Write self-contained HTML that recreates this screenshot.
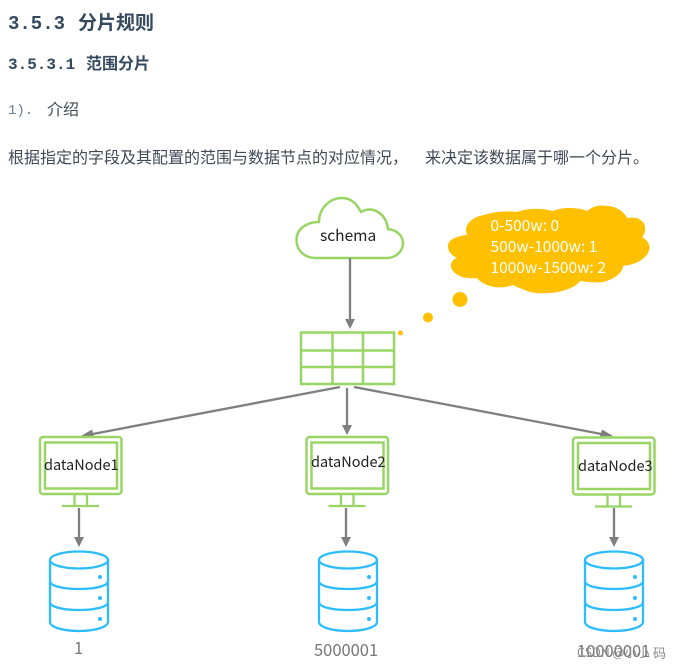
<!DOCTYPE html>
<html>
<head>
<meta charset="utf-8">
<style>
html,body{margin:0;padding:0;background:#fff;width:681px;height:669px;overflow:hidden}
svg{position:absolute;left:0;top:0;display:block}
.cjk{font-family:"Liberation Sans","Noto Sans CJK SC",sans-serif}
.mono{font-family:"Liberation Mono","Noto Sans CJK SC",monospace}
.lb{font-family:"Noto Sans CJK SC","Liberation Sans",sans-serif}
</style>
</head>
<body>
<svg width="681" height="669" viewBox="0 0 681 669" xmlns="http://www.w3.org/2000/svg">
<defs>
<g id="mon">
<rect x="40" y="437" width="81.500" height="57" rx="3" fill="#fff" stroke="#98d565" stroke-width="2.500"/>
<rect x="45" y="442.500" width="72" height="46" fill="#fff" stroke="#98d565" stroke-width="2.500"/>
<path d="M74.500 494V506M87 494V506M62 506H99" fill="none" stroke="#98d565" stroke-width="2.300"/>
</g>
<g id="db" fill="none" stroke="#2dbcff" stroke-width="2.300">
<ellipse cx="79" cy="560" rx="29" ry="8.500" fill="#fff"/>
<path d="M50 560V622C50 627 63 631 79 631C95 631 108 627 108 622V560"/>
<path d="M50 581C50 586 63 589 79 589C95 589 108 586 108 581"/>
<path d="M50 602C50 607 63 610 79 610C95 610 108 607 108 602"/>
<g fill="#2dbcff" stroke="none">
<circle cx="100" cy="577" r="2"/><circle cx="100" cy="598" r="2"/><circle cx="100" cy="619" r="2"/>
</g>
</g>
</defs>

<text class="mono" x="8" y="29" font-size="19" font-weight="700" fill="#34495e">3.5.3</text>
<text class="cjk" x="78" y="29" font-size="19" font-weight="700" fill="#34495e">分片规则</text>
<text class="mono" x="8" y="69" font-size="16" font-weight="700" fill="#34495e">3.5.3.1</text>
<text class="cjk" x="86" y="69" font-size="16" font-weight="700" fill="#34495e">范围分片</text>
<text class="mono" x="8" y="114" font-size="14" fill="#6a7f94">1).</text>
<text class="cjk" x="47" y="115" font-size="16" fill="#3f4a56">介绍</text>
<text class="cjk" x="8" y="163" font-size="16" fill="#3f4a56">根据指定的字段及其配置的范围与数据节点的对应情况，</text>
<text class="cjk" x="425" y="163" font-size="16" fill="#3f4a56">来决定该数据属于哪一个分片。</text>

<!-- schema cloud -->
<path d="M316 258C304 258 296.500 250 296.500 240C296.500 230 305 222 319 222C319 208 330 198 342 198C351 198 357 204 361 212C372 205 386 213 388 229C397 230 403 236 403 243C403 251 396 258 387 258Z" fill="#fff" stroke="#98d565" stroke-width="2.500"/>
<text class="lb" x="320" y="241" font-size="15.500" fill="#222">schema</text>

<!-- orange thought cloud -->
<path d="M448 246C448 240 456 236 467 235C463 226 471 217 484 215C495 211 508 211 517 212C527 208 542 208 553 211C562 207 577 207 587 211C595 205 600 205 607 206C615 206 624 211 627 218C634 217 639 218 640 220C646 222 647 232 642 237C648 240 651 247 649 250C648 256 640 264 623 266C623 272 615 279 603 282C596 283 588 282 580 281C576 287 562 293 547 293C538 294 528 292 525 290C520 288 516 287 513 285C505 288 496 288 490 286C484 284 479 281 477 278C468 279 461 277 460 276C452 273 449 266 452 262C453 260 455 258 457 258C451 255 448 251 448 246Z" fill="#ffc000"/>
<g fill="#ffc000">
<circle cx="460" cy="299.500" r="7.500"/>
<circle cx="428" cy="317.500" r="5"/>
<circle cx="400.500" cy="333" r="2.500"/>
</g>
<g class="lb" font-size="15.500" fill="#fff">
<text x="490.500" y="231">0-500w: 0</text>
<text x="490.500" y="252">500w-1000w: 1</text>
<text x="490.500" y="273">1000w-1500w: 2</text>
</g>

<!-- table -->
<g fill="none" stroke="#98d565" stroke-width="2.500">
<rect x="301" y="332.500" width="93" height="51.500" fill="#fff"/>
<path d="M332.500 332.500V384M363 332.500V384M301 350.500H394M301 367H394"/>
</g>

<!-- arrows -->
<g stroke="#7f7f7f" stroke-width="2.300" fill="none">
<path d="M340 387L90 434.500"/>
<path d="M350 258V322"/>
<path d="M347 388V427"/>
<path d="M354 387L604 434.500"/>
<path d="M79 508V540"/>
<path d="M346 508V540"/>
<path d="M614 508V540"/>
</g>
<g fill="#7f7f7f">
<path d="M345 319H355L350 329Z"/>
<path d="M81 436L92 429.500L94 436.500Z"/>
<path d="M342 425H352L347 435Z"/>
<path d="M613 436L602 429.500L600 436.500Z"/>
<path d="M74 537H84L79 547Z"/>
<path d="M341 537H351L346 547Z"/>
<path d="M609 537H619L614 547Z"/>
</g>

<use href="#mon"/>
<use href="#mon" x="266.500"/>
<use href="#mon" x="533" y="0.500"/>
<text class="lb" x="44" y="470" font-size="14.500" fill="#222">dataNode1</text>
<text class="lb" x="311" y="467" font-size="14.500" fill="#222">dataNode2</text>
<text class="lb" x="578" y="471" font-size="14.500" fill="#222">dataNode3</text>

<use href="#db"/>
<use href="#db" x="269"/>
<use href="#db" x="535"/>

<g class="lb" font-size="16.500" fill="#777">
<text x="74" y="654">1</text>
<text x="314" y="656">5000001</text>
<text x="577" y="657">10000001</text>
</g>
<text class="lb" x="577" y="657" font-size="12.500" fill="#8a8a8a">CSDN @小小</text>
<text class="lb" x="653" y="658" font-size="13" fill="#8a8a8a">码</text>
</svg>
</body>
</html>
